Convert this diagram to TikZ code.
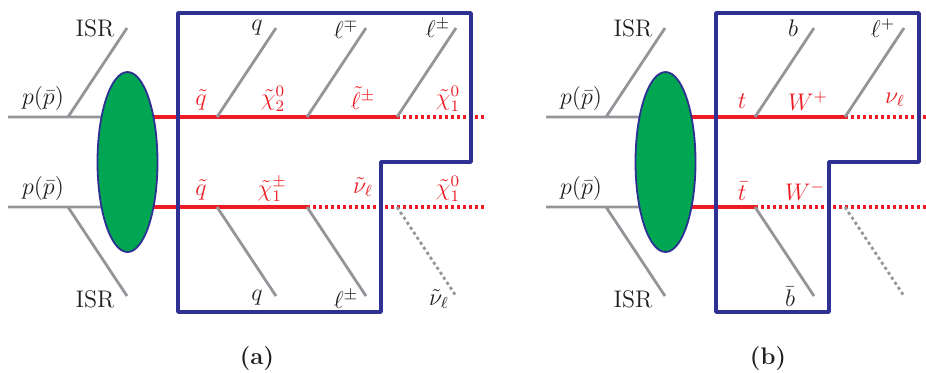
\documentclass[tikz,border=0pt]{standalone}
\definecolor{boxblue}{HTML}{2E3192}
\definecolor{fillgreen}{HTML}{00A651}
\definecolor{linered}{HTML}{ED1C24}
\definecolor{linegray}{HTML}{939598}
\definecolor{inkblack}{HTML}{231F20}
\tikzset{
 every node/.style={font=\fontsize{12}{14}\selectfont,text=inkblack,inner sep=0pt},
 red label/.style={text=linered},
 beam/.style={linegray,line width=1.4pt},
 softdot/.style={linegray,line width=1.4pt,dash pattern=on 1.5pt off 1.5pt},
 spart/.style={linered,line width=1.6pt},
 invis/.style={linered,line width=1.6pt,dash pattern=on 1.5pt off 1.5pt},
 frameline/.style={boxblue,line width=1.75pt,line join=round},
 blob/.style={ellipse,draw=boxblue,fill=fillgreen,line width=.9pt,minimum width=30pt,minimum height=90pt}
}
\usetikzlibrary{shapes.geometric}
\begin{document}
\begin{tikzpicture}[x=.5pt,y=-.5pt]
\useasboundingbox (0,0) rectangle (926,372);
% ---------- panel a
\coordinate (a1) at (8,117); \coordinate (a2) at (68,117); \coordinate (a3) at (127,28);
\coordinate (b1) at (8,207); \coordinate (b2) at (68,207); \coordinate (b3) at (127,296);
\coordinate (r0) at (127,117); \coordinate (r1) at (217,117); \coordinate (r2) at (307,117); \coordinate (r3) at (397,117); \coordinate (r4) at (487,117);
\coordinate (s0) at (127,207); \coordinate (s1) at (217,207); \coordinate (s2) at (307,207); \coordinate (s3) at (397,207); \coordinate (s4) at (487,207);
\coordinate (t1) at (276,28); \coordinate (t2) at (366,28); \coordinate (t3) at (456,28);
\coordinate (u1) at (276,296); \coordinate (u2) at (366,296); \coordinate (u3) at (456,296);
\draw[beam] (a1) -- (r0) (a2) -- (a3) (b1) -- (s0) (b2) -- (b3);
\draw[spart] (r0) -- (r3) (s0) -- (s2);
\draw[invis] (r3) -- (r4);
\draw[invis] (s2) -- (s4);
\draw[beam] (r1) -- (t1) (r2) -- (t2) (r3) -- (t3) (s1) -- (u1) (s2) -- (u2);
\draw[softdot] (s3) -- (u3);
\node[blob] (ga) at (127.5,162) {};
\draw[frameline] (178,13) -- (471,13) -- (471,162) -- (381,162) -- (381,312) -- (178,312) -- cycle;
\node (ta1) at (95,28) {ISR};
\node (ta2) at (95,299) {ISR};
\node (ta3) at (43,98) {$p(\bar p)$};
\node (ta4) at (43,188) {$p(\bar p)$};
\node[red label] (ta5) at (201,100) {$\tilde q$};
\node[red label] (ta6) at (201,190) {$\tilde q$};
\node[red label] (ta7) at (273,99) {$\tilde\chi^0_2$};
\node[red label] (ta8) at (272,189) {$\tilde\chi^\pm_1$};
\node[red label] (ta9) at (363,98) {$\tilde\ell^\pm$};
\node[red label] (ta10) at (363,187) {$\tilde\nu_\ell$};
\node[red label] (ta11) at (448,99) {$\tilde\chi^0_1$};
\node[red label] (ta12) at (448,189) {$\tilde\chi^0_1$};
\node (ta13) at (257,28) {$q$};
\node (ta14) at (346,29) {$\ell^\mp$};
\node (ta15) at (438,28) {$\ell^\pm$};
\node (ta16) at (257,298) {$q$};
\node (ta17) at (346,299) {$\ell^\pm$};
\node (ta18) at (439,299) {$\tilde\nu_\ell$};
\node (cap1) at (257,358) {\textbf{(a)}};
% ---------- panel b
\coordinate (c1) at (546,117); \coordinate (c2) at (606,117); \coordinate (c3) at (665,28);
\coordinate (d1) at (546,207); \coordinate (d2) at (606,207); \coordinate (d3) at (665,296);
\coordinate (v0) at (665,117); \coordinate (v1) at (755,117); \coordinate (v2) at (845,117); \coordinate (v3) at (926,117);
\coordinate (w0) at (665,207); \coordinate (w1) at (755,207); \coordinate (w2) at (845,207); \coordinate (w3) at (926,207);
\coordinate (x1) at (814,28); \coordinate (x2) at (904,28);
\coordinate (y1) at (814,296); \coordinate (y2) at (904,296);
\draw[beam] (c1) -- (v0) (c2) -- (c3) (d1) -- (w0) (d2) -- (d3);
\draw[spart] (v0) -- (v2) (w0) -- (w1);
\draw[invis] (v2) -- (v3);
\draw[invis] (w1) -- (w3);
\draw[beam] (v1) -- (x1) (v2) -- (x2) (w1) -- (y1);
\draw[softdot] (w2) -- (y2);
\node[blob] (gb) at (665.5,162) {};
\draw[frameline] (716,13) -- (919,13) -- (919,162) -- (829,162) -- (829,312) -- (716,312) -- cycle;
\node (tb1) at (633,28) {ISR};
\node (tb2) at (633,299) {ISR};
\node (tb3) at (581,98) {$p(\bar p)$};
\node (tb4) at (581,188) {$p(\bar p)$};
\node[red label] (tb5) at (742,101) {$t$};
\node[red label] (tb6) at (742,191) {$\bar t$};
\node[red label] (tb7) at (808,101) {$W^+$};
\node[red label] (tb8) at (805,191) {$W^-$};
\node[red label] (tb9) at (895,100) {$\nu_\ell$};
\node (tb10) at (793,28) {$b$};
\node (tb11) at (883,28) {$\ell^+$};
\node (tb12) at (790,297) {$\bar b$};
\node (cap2) at (768,358) {\textbf{(b)}};
\end{tikzpicture}
\end{document}
